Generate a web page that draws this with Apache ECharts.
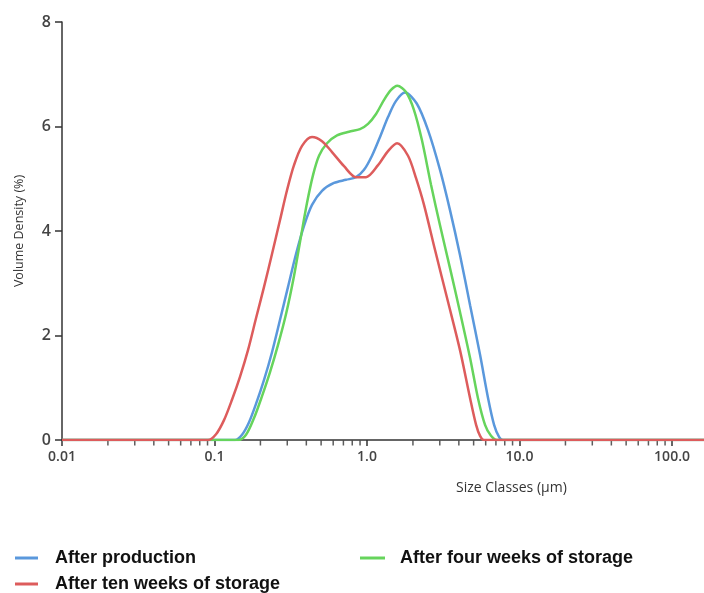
<!DOCTYPE html>
<html>
<head>
<meta charset="utf-8">
<script src="https://cdn.jsdelivr.net/npm/echarts@6/dist/echarts.min.js"></script>
<style>
  html, body { margin: 0; padding: 0; background: #fff; }
  #chart { width: 704px; height: 593px; }
</style>
</head>
<body>
<div id="chart"></div>
<script>
// 粒径分布数据 [size (µm), volume density (%)]
const afterProduction = [
    [0.01, 0], [0.1363, 0], [0.1515, 0.10], [0.1684, 0.34], [0.1871, 0.69], [0.2112, 1.15],
    [0.2382, 1.68], [0.2689, 2.30], [0.3034, 2.93], [0.3423, 3.56], [0.3863, 4.10],
    [0.4358, 4.50], [0.5069, 4.77], [0.6075, 4.92], [0.7284, 4.98], [0.8471, 5.03],
    [0.9556, 5.17], [1.078, 5.44], [1.217, 5.80], [1.373, 6.18], [1.550, 6.49],
    [1.775, 6.65], [2.118, 6.44], [2.512, 5.93], [3.01, 5.17], [3.50, 4.40],
    [4.07, 3.54], [4.74, 2.58], [5.51, 1.63], [6.22, 0.80], [6.81, 0.29],
    [7.34, 0.06], [7.80, 0], [162, 0]
];
const afterFourWeeks = [
    [0.01, 0], [0.1432, 0], [0.1609, 0.10], [0.1816, 0.42], [0.2049, 0.84], [0.2312, 1.30],
    [0.2609, 1.82], [0.2944, 2.41], [0.3321, 3.14], [0.3691, 3.90], [0.4043, 4.54],
    [0.4425, 5.07], [0.4845, 5.44], [0.5467, 5.68], [0.6359, 5.83], [0.7621, 5.90],
    [0.8997, 5.95], [1.0153, 6.05], [1.146, 6.24], [1.293, 6.51], [1.437, 6.70],
    [1.58, 6.78], [1.80, 6.66], [2.03, 6.32], [2.29, 5.74], [2.63, 4.88],
    [3.01, 4.11], [3.50, 3.29], [4.07, 2.45], [4.74, 1.57], [5.34, 0.80],
    [5.94, 0.29], [6.50, 0.08], [7.12, 0], [162, 0]
];
const afterTenWeeks = [
    [0.01, 0], [0.0906, 0], [0.1023, 0.11], [0.1154, 0.38], [0.1302, 0.77], [0.1469, 1.21],
    [0.1658, 1.72], [0.1871, 2.33], [0.2112, 2.93], [0.2382, 3.56], [0.2689, 4.21],
    [0.2988, 4.78], [0.3321, 5.26], [0.3749, 5.63], [0.4358, 5.80], [0.5069, 5.72],
    [0.5895, 5.51], [0.7066, 5.24], [0.8471, 5.03], [0.985, 5.03], [1.181, 5.26],
    [1.373, 5.53], [1.573, 5.68], [1.857, 5.44], [2.096, 5.01], [2.364, 4.50],
    [2.79, 3.64], [3.40, 2.64], [4.07, 1.72], [4.74, 0.80], [5.19, 0.29],
    [5.51, 0.08], [5.85, 0], [162, 0]
];
// 对数轴的次刻度位置
const minorTicks = [
    0.02, 0.03, 0.04, 0.05, 0.06, 0.07, 0.08, 0.09,
    0.2, 0.3, 0.4, 0.5, 0.6, 0.7, 0.8, 0.9,
    2, 3, 4, 5, 6, 7, 8, 9,
    20, 30, 40, 50, 60, 70, 80, 90
];
const seriesNames = ['After production', 'After four weeks of storage', 'After ten weeks of storage'];
const seriesColors = ['#5a98dc', '#66d45c', '#dd5c5c'];

const chart = echarts.init(document.getElementById('chart'));

function legendText(padLeft) {
    return {
        fontFamily: 'Liberation Sans, Arial, sans-serif',
        fontWeight: 'bold',
        fontSize: 18,
        lineHeight: 18,
        color: '#111',
        padding: [0, 0, 0, padLeft],
    };
}

function lineSeries(name, data, color) {
    return {
        name: name,
        type: 'line',
        data: data,
        smooth: 0.3,
        showSymbol: false,
        itemStyle: { color: color },
        lineStyle: { width: 2.5, color: color },
    };
}

const option = {
    animation: false,
    title: {
        text: 'Size Classes (µm)',
        left: 451,
        top: 476,
        textStyle: { fontFamily: 'Open Sans', fontSize: 14, fontWeight: 'normal', color: '#333' },
    },
    legend: [
        {
            orient: 'vertical',
            left: 10,
            top: 544,
            height: 80,
            itemGap: 8,
            itemWidth: 23,
            itemHeight: 3,
            icon: 'rect',
            data: [seriesNames[0], seriesNames[2]],
            textStyle: legendText(12),
        },
        {
            orient: 'vertical',
            left: 355,
            top: 544,
            height: 80,
            itemWidth: 25,
            itemHeight: 3,
            icon: 'rect',
            data: [seriesNames[1]],
            textStyle: legendText(10),
        },
    ],
    grid: { left: 62, right: 0, top: 22, bottom: 153 },
    xAxis: {
        type: 'log',
        logBase: 10,
        min: 0.01,
        max: 162,
        axisLine: { lineStyle: { color: '#333', width: 1.5 } },
        axisTick: { length: 6, lineStyle: { color: '#333', width: 1.5 } },
        splitLine: { show: false },
        axisLabel: {
            margin: 10,
            showMaxLabel: false,
            fontFamily: 'Open Sans',
            fontSize: 14,
            fontWeight: 600,
            color: '#444',
            formatter: (value) => {
                const v = Number(value.toPrecision(3));
                return v >= 1 ? v.toFixed(1) : String(v);
            },
        },
    },
    yAxis: {
        type: 'value',
        min: 0,
        max: 8,
        interval: 2,
        name: 'Volume Density (%)',
        nameLocation: 'middle',
        nameGap: 36,
        nameTextStyle: { fontFamily: 'Open Sans', fontSize: 12.5, color: '#333' },
        axisLine: { show: true, lineStyle: { color: '#333', width: 1.5 } },
        axisTick: { show: true, length: 7, lineStyle: { color: '#333', width: 1.5 } },
        splitLine: { show: false },
        axisLabel: {
            margin: 11,
            fontFamily: 'Open Sans',
            fontSize: 16,
            fontWeight: 600,
            color: '#444',
        },
    },
    series: [
        lineSeries(seriesNames[0], afterProduction, seriesColors[0]),
        lineSeries(seriesNames[1], afterFourWeeks, seriesColors[1]),
        lineSeries(seriesNames[2], afterTenWeeks, seriesColors[2]),
        {
            // 次刻度
            type: 'scatter',
            data: minorTicks.map((v) => [v, 0]),
            symbol: 'rect',
            symbolSize: [1.5, 5],
            symbolOffset: [0, 3],
            clip: false,
            silent: true,
            z: 1,
            itemStyle: { color: '#333' },
        },
    ],
};

chart.setOption(option);
</script>
</body>
</html>
